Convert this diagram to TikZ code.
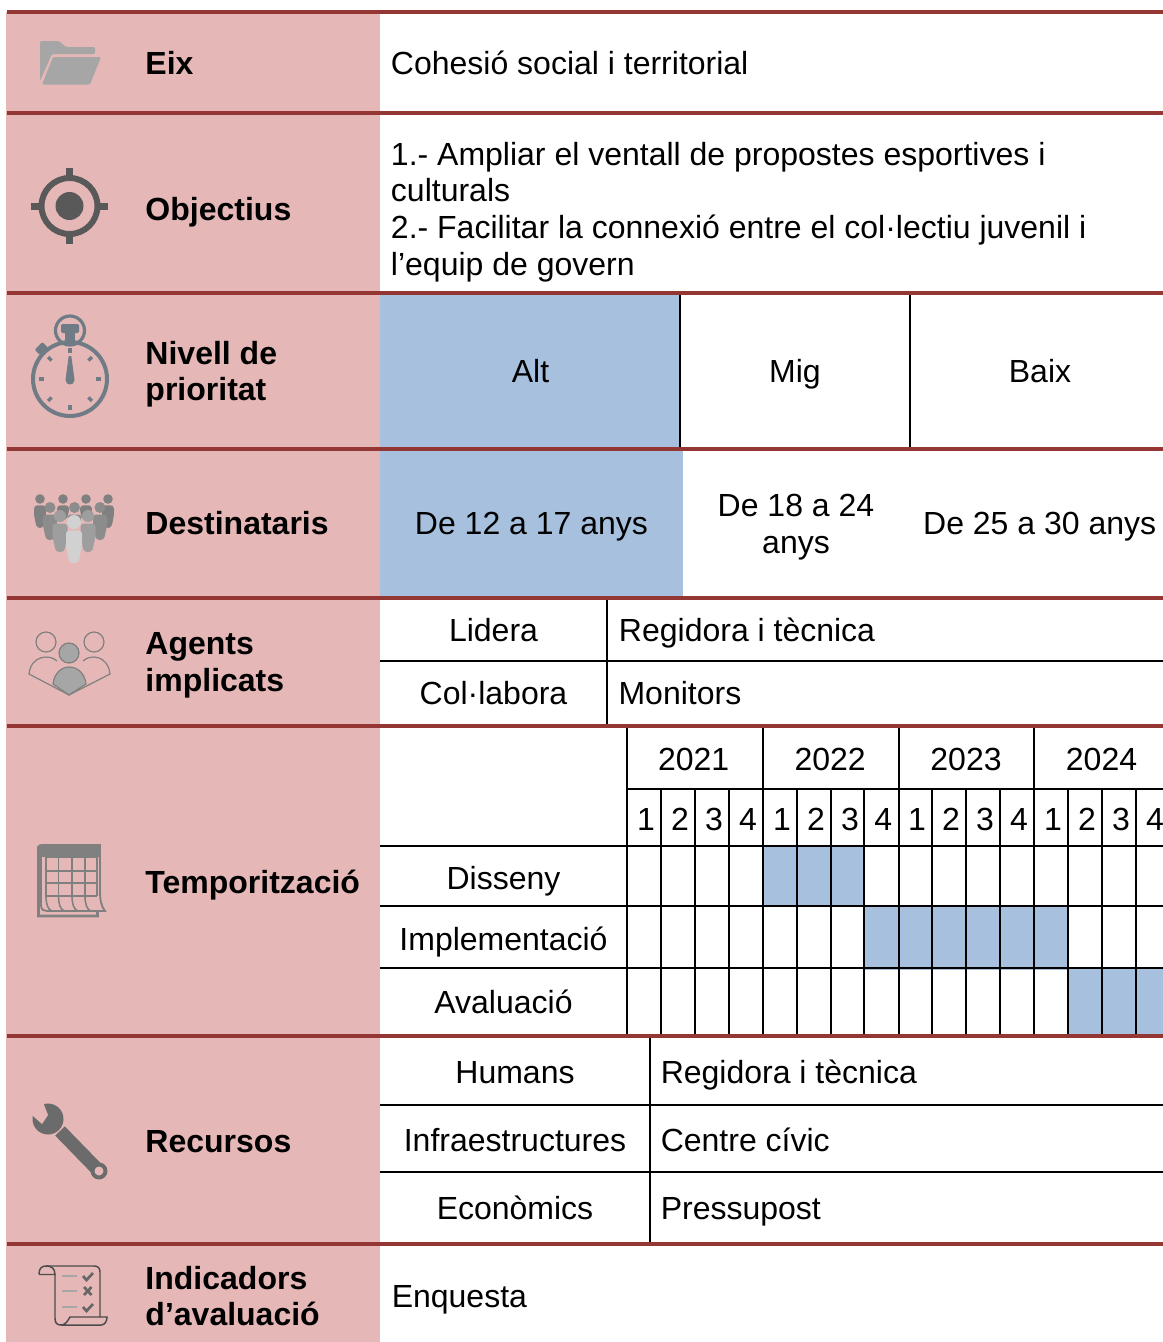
\documentclass[tikz,border=0pt]{standalone}
\usepackage{fontspec}
\setmainfont{Liberation Sans}
\definecolor{pinkbg}{HTML}{E5B8B7}
\definecolor{redrule}{HTML}{943634}
\definecolor{bluefill}{HTML}{A7C0DE}
\definecolor{watchgrey}{HTML}{6F7B85}
\newcommand{\personshape}[5]{% x, head y, head r, body half width, body bottom y ; colour set by scope
  \fill (#1,#2) circle[radius=#3];
  \fill[rounded corners=2.5pt] ({#1-#4},{#2+#3+1.5}) -- ({#1+#4},{#2+#3+1.5}) -- ({#1+#4},{#2+#3+1.5+(#5-#2-#3-1.5)*0.45}) -- ({#1+#4*0.55},#5) -- ({#1-#4*0.55},#5) -- ({#1-#4},{#2+#3+1.5+(#5-#2-#3-1.5)*0.45}) -- cycle;
}
\tikzset{
  x=0.75pt,y=-0.75pt,
  txt/.style={font=\fontsize{24}{27}\selectfont,inner sep=0pt,text=black},
  lab/.style={txt,anchor=base west},
  mid/.style={txt,anchor=base},
  head/.style={txt,anchor=base west,font=\fontsize{24}{27}\selectfont\bfseries},
  redline/.style={redrule,line width=3pt},
  gridline/.style={black,line width=1.3pt},
}
\begin{document}
\begin{tikzpicture}
\useasboundingbox (0,0) rectangle (1163,1342);
\fill[white] (0,0) rectangle (1163,1342);
% left band
\fill[pinkbg] (6,12) rectangle (380,1342);
% blue fills
\fill[bluefill] (380,293) rectangle (680,449);
\fill[bluefill] (380,449) rectangle (683,598);
\fill[bluefill] (763,846) rectangle (864,907);
\fill[bluefill] (864,906) rectangle (1068,970);
\fill[bluefill] (1068,968) rectangle (1163,1036);
% black grid
\foreach \x/\a/\b in {680/293/449,910/293/449,607/598/726,650/1036/1244}
  \draw[gridline] (\x,\a) -- (\x,\b);
\draw[gridline] (380,661) -- (1163,661);
\draw[gridline] (380,1105) -- (1163,1105);
\draw[gridline] (380,1172) -- (1163,1172);
\draw[gridline] (380,846) -- (1163,846);
\draw[gridline] (380,906) -- (1163,906);
\draw[gridline] (380,968) -- (1163,968);
\draw[gridline] (627,789) -- (1163,789);
\foreach \x in {627,763,899,1034}
  \draw[gridline] (\x,726) -- (\x,1036);
\foreach \x in {661,695,729,797,831,864,932,966,1000,1068,1102,1136}
  \draw[gridline] (\x,789) -- (\x,1036);
% red rules
\foreach \y in {12,113,293,449,598,726,1036,1244}
  \draw[redline] (7,\y) -- (1163,\y);
% left headings
\node[head] (hEix) at (145.2,74.5) {Eix};
\node[head] (hObj) at (145.2,220) {Objectius};
\node[head] (hNiv1) at (145.2,364) {Nivell de};
\node[head] (hNiv2) at (145.2,400) {prioritat};
\node[head] (hDes) at (145.2,534) {Destinataris};
\node[head] (hAg1) at (145.2,654) {Agents};
\node[head] (hAg2) at (145.2,691) {implicats};
\node[head] (hTem) at (145.2,893) {Temporització};
\node[head] (hRec) at (145.2,1152) {Recursos};
\node[head] (hInd1) at (145.2,1289) {Indicadors};
\node[head] (hInd2) at (145.2,1325) {d’avaluació};
% right texts
\node[lab] (tCoh) at (390.7,74.5) {Cohesió social i territorial};
\node[lab] (tO1) at (390.7,165) {1.- Ampliar el ventall de propostes esportives i};
\node[lab] (tO2) at (390.7,201) {culturals};
\node[lab] (tO3) at (390.7,238) {2.- Facilitar la connexió entre el col·lectiu juvenil i};
\node[lab] (tO4) at (390.7,275) {l’equip de govern};
\node[mid] (tAlt) at (530.5,382) {Alt};
\node[mid] (tMig) at (795,382) {Mig};
\node[mid] (tBaix) at (1040,382) {Baix};
\node[mid] (tD1) at (531.5,534) {De 12 a 17 anys};
\node[mid] (tD2a) at (796,516) {De 18 a 24};
\node[mid] (tD2b) at (796,553) {anys};
\node[mid] (tD3) at (1039.7,534) {De 25 a 30 anys};
\node[mid] (tLid) at (493.5,641) {Lidera};
\node[lab] (tReg1) at (618.7,641) {Regidora i tècnica};
\node[mid] (tCol) at (493.5,704) {Col·labora};
\node[lab] (tMon) at (618.3,704) {Monitors};
\node[mid] (y21) at (693.7,770) {2021};
\node[mid] (y22) at (830.2,770) {2022};
\node[mid] (y23) at (966,770) {2023};
\node[mid] (y24) at (1101.5,770) {2024};
\foreach \x/\q [count=\i] in {646/1,680/2,714/3,748/4,782/1,816/2,850/3,883.3/4,917/1,951/2,985/3,1019/4,1053/1,1087/2,1121/3,1155/4}
  \node[mid] (q\i) at (\x,830) {\q};
\node[mid] (tDis) at (503.5,889) {Disseny};
\node[mid] (tImp) at (503.5,950) {Implementació};
\node[mid] (tAva) at (503.5,1013) {Avaluació};
\node[mid] (tHum) at (515,1083) {Humans};
\node[lab] (tReg2) at (660.5,1083) {Regidora i tècnica};
\node[mid] (tInf) at (515,1151) {Infraestructures};
\node[lab] (tCen) at (660.5,1151) {Centre cívic};
\node[mid] (tEco) at (515,1219) {Econòmics};
\node[lab] (tPre) at (660.5,1219) {Pressupost};
\node[lab] (tEnq) at (391.5,1307) {Enquesta};
% folder icon
\fill[black!35,rounded corners=1pt] (40,41) -- (59,41) -- (66,47) -- (95,47) -- (95,54) -- (52,54) -- (40,81) -- cycle;
\fill[black!35,rounded corners=1pt] (53,57) -- (101,57) -- (90,84.5) -- (42,84.5) -- cycle;
% target icon
\begin{scope}[black!65]
\draw[line width=4.5pt] (69.5,206) circle[radius=28];
\fill (69.5,206) circle[radius=14];
\fill (31,202.5) rectangle (44,209.5);
\fill (95,202.5) rectangle (108,209.5);
\fill (66,168) rectangle (73,181);
\fill (66,231) rectangle (73,244);
\end{scope}
% stopwatch icon
\begin{scope}[watchgrey]
\draw[line width=3pt] (70,379) circle[radius=37];
\draw[line width=2.4pt] (70,330.5) circle[radius=14.5];
\fill[rounded corners=1pt] (61,324) rectangle (79,333);
\fill (65,333) rectangle (75,342);
\fill[rotate around={45:(41,349)},rounded corners=1pt] (36,345) rectangle (47,353);
\foreach \a in {0,45,...,315}
  \draw[line width=2.6pt] (70,379) ++(\a:26) -- ++(\a:5);
\fill (68.7,356) -- (71.3,356) -- (74.5,380) .. controls (74.5,386) and (65.5,386) .. (65.5,380) -- cycle;
\end{scope}
% crowd icon
\begin{scope}[black!50]
\personshape{40}{499}{4.8}{6}{528}
\personshape{63}{499}{4.8}{6}{520}
\personshape{86}{499}{4.8}{6}{520}
\personshape{108}{499}{4.8}{6}{528}
\end{scope}
\begin{scope}[black!45]
\personshape{50}{507.5}{5.5}{7}{540}
\personshape{74.5}{507.5}{5.5}{7}{525}
\personshape{100}{507.5}{5.5}{7}{540}
\end{scope}
\begin{scope}[black!38]
\personshape{60}{516}{6}{7.5}{552}
\personshape{88}{516}{6}{7.5}{552}
\end{scope}
\begin{scope}[black!18]
\personshape{74}{522}{7}{8}{563}
\end{scope}
% agents icon
\begin{scope}[draw=black!50,line width=0.9pt]
\draw (46,642) circle[radius=10];
\draw (94,642) circle[radius=10];
\draw[fill=black!35] (69,653) circle[radius=10];
\draw[fill=black!35] (53,684) .. controls (54,674) and (61,667) .. (69,667) .. controls (78,667) and (85,674) .. (86,684) -- (69,695) -- cycle;
\draw (57,661) .. controls (50,654) and (31,655) .. (29,674) -- (69,695) -- (110,674) .. controls (108,655) and (90,654) .. (83,661);
\end{scope}
% calendar icon
\begin{scope}[black!50]
\draw[line width=2pt] (41,845) -- (38.5,847) -- (38.5,916) -- (97.5,916) -- (97.5,912);
\draw[line width=1.4pt] (41,845) -- (41,905) .. controls (41,910) and (44,911) .. (47,911) -- (105,911) .. controls (101,906) and (100,900) .. (100,890) -- (100,845);
\fill (41,844) rectangle (100.5,857);
\foreach \x in {46,58.5,72,85,97}
  \draw[line width=1.2pt] (\x,857) -- (\x,896);
\foreach \y in {857,871,883,896}
  \draw[line width=1.2pt] (46,\y) -- (97,\y);
\foreach \x in {46,58.5,72,85}
  \draw[line width=1.2pt] (\x,896) .. controls (\x,904) and (\x+2,910) .. (\x+6,911);
\end{scope}
% wrench icon
\begin{scope}[black!58]
\fill (48,1119) circle[radius=15.5];
\draw[line width=10pt] (60,1131) -- (99,1171);
\fill (99,1171) circle[radius=8.5];
\fill[pinkbg] (99,1171) circle[radius=4.5];
\fill[pinkbg] (43,1102) -- (48,1115) -- (42,1124) -- (33,1116) -- (27,1100) -- cycle;
\end{scope}
% scroll icon
\begin{scope}[draw=black!70,line width=1.1pt]
\draw (39,1274.5) .. controls (39,1269) and (41,1266) .. (46,1266) -- (94,1266) .. controls (98,1266) and (100,1268) .. (100,1272) -- (100,1317);
\draw (46,1266) .. controls (51,1266) and (55,1268) .. (55,1274.5) -- (39,1274.5);
\draw (55,1274.5) -- (55,1318) .. controls (55,1323) and (57,1325) .. (61,1325) -- (101,1325) .. controls (105,1325) and (107,1321) .. (107,1317) -- (70,1317) .. controls (68,1320) and (66,1325) .. (61,1325);
\end{scope}
\begin{scope}[black!35,line width=1.8pt]
\draw (62,1276) -- (77,1276);
\draw (62,1291) -- (77,1291);
\draw (62,1307) -- (77,1307);
\end{scope}
\begin{scope}[black!60,line width=2pt]
\draw (83,1276) -- (86.5,1280) -- (93,1273);
\draw (84,1287) -- (91.5,1295) (91.5,1287) -- (84,1295);
\draw (83,1307) -- (86.5,1311) -- (93,1304);
\end{scope}
\end{tikzpicture}
\end{document}
